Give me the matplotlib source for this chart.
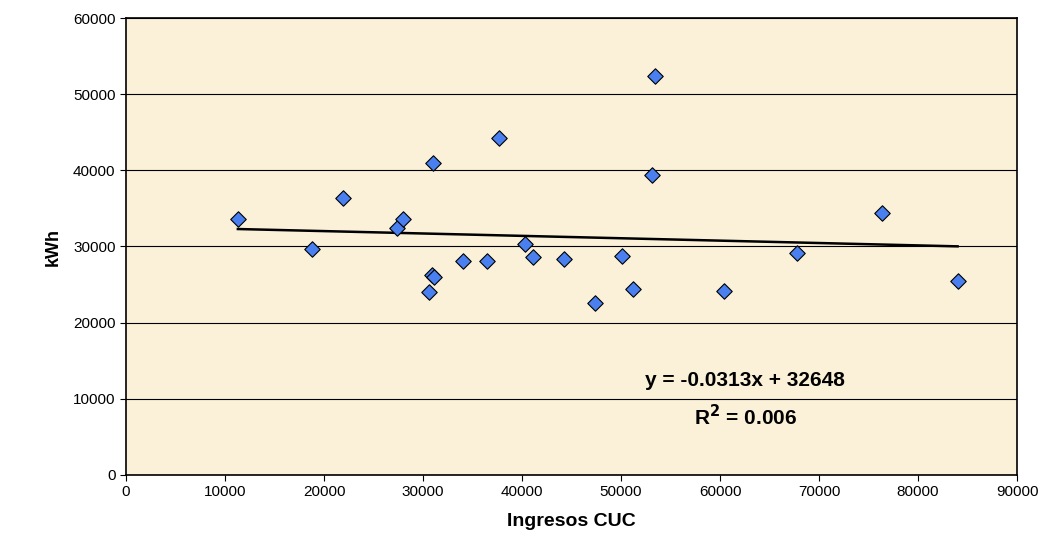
import matplotlib
matplotlib.use("Agg")
import matplotlib.pyplot as plt
import numpy as np

plt.rcParams['font.family'] = ['Liberation Sans', 'DejaVu Sans']

ingresos = [11300, 18800, 21900, 27350, 28000, 31000, 37700, 53400, 53100, 76400,
            40350, 41100, 34050, 36500, 44200, 50100, 67800, 30900, 31100, 30650,
            51200, 60400, 47350, 84000]
kwh = [33550, 29700, 36400, 32400, 33550, 40900, 44200, 52450, 39400, 34400,
       30300, 28650, 28070, 28070, 28300, 28800, 29200, 26200, 25950, 24000,
       24400, 24150, 22550, 25500]
slope = -0.0313
intercept = 32648

fig = plt.figure(figsize=(10.4, 5.46), dpi=100)
ax = fig.add_axes([126 / 1040, 1 - 475 / 546, (1017 - 126) / 1040, (475 - 18) / 546])
ax.set_facecolor("#fbf0d8")

ax.set_xlim(0, 90000)
ax.set_ylim(0, 60000)
ax.set_xticks(np.arange(0, 90001, 10000))
ax.set_yticks(np.arange(0, 60001, 10000))
ax.yaxis.grid(True, color="black", linewidth=0.8)
ax.set_axisbelow(True)
for s in ax.spines.values():
    s.set_linewidth(1.2)
ax.tick_params(labelsize=11, length=4)

xs = np.array([min(ingresos), max(ingresos)])
ax.plot(xs, slope * xs + intercept, color="black", linewidth=1.8, zorder=2)
ax.scatter(ingresos, kwh, marker="D", s=62, color="#4a7fef", edgecolors="black",
           linewidths=0.8, zorder=3)

ax.text(0.695, 0.195, "y = -0.0313x + 32648", transform=ax.transAxes, ha="center",
        fontsize=15, fontweight="bold")
ax.text(0.695, 0.11, "R$^{\\mathbf{2}}$ = 0.006", transform=ax.transAxes, ha="center",
        fontsize=15, fontweight="bold")

ax.set_xlabel("Ingresos CUC", fontsize=14, fontweight="bold", labelpad=10)
ax.set_ylabel("kWh", fontsize=13, fontweight="bold", labelpad=8)

fig.savefig("out.png", dpi=100)
